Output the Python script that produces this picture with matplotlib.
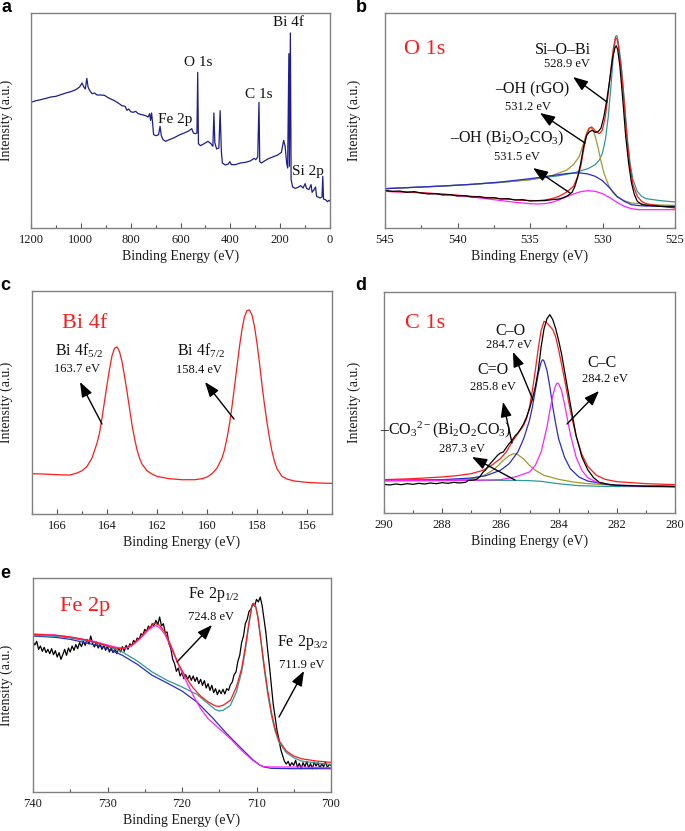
import numpy as np
import matplotlib
matplotlib.use('Agg')
import matplotlib.pyplot as plt
from matplotlib.ticker import MultipleLocator

plt.rcParams['font.family'] = ['Liberation Serif', 'DejaVu Serif']
plt.rcParams['mathtext.fontset'] = 'custom'
plt.rcParams['mathtext.rm'] = 'Liberation Serif'
plt.rcParams['mathtext.it'] = 'Liberation Serif:italic'
plt.rcParams['mathtext.bf'] = 'Liberation Serif:bold'

# ---------------- data (a) survey ----------------
survey_be = [1200,1180,1160,1140,1120,1100,1080,1060,1040,1020,1005,995,988,982,976,971,965,955,945,935,
             920,905,895,880,865,850,835,822,815,808,800,790,780,770,755,740,730,724,720,716,
             712,708,698,688,682,677,670,660,645,625,605,585,565,555,548,540,534,531,528,520,
             505,490,478,470,466,462,455,446,441,436,432,420,408,402,396,380,360,340,320,305,
             298,290,285,282,275,265,250,230,210,195,186,180,174,170,165,163,159,156,150,140,
             128,118,108,100,94,85,76,72,64,58,54,48,40,32,29,26,18,10,4,0]
survey_int = [377,382,385,389,393,395,400,405,409,415,423,435,423,417,449,423,413,403,405,399,
              399,398,393,387,382,375,367,365,353,357,349,347,350,343,340,337,333,343,323,345,
              315,280,277,280,305,277,265,260,265,271,279,285,292,298,285,283,285,467,253,247,
              253,260,253,245,345,255,237,240,352,230,195,189,192,199,190,190,195,197,201,209,
              205,213,377,199,195,200,207,213,219,227,263,245,195,180,523,185,585,145,123,119,
              122,127,120,133,119,115,130,107,115,123,95,93,90,93,155,87,85,79,83,81]

# ---------------- data (b) O 1s ----------------
o1s_raw_be = [545,544.5,544,543.5,543,542.5,542,541.5,541,540.5,540,539.5,539,538.5,538,537.5,537,536.5,536,535.5,535,
              534.5,534,533.5,533,532.7,532.4,532.1,531.9,531.7,531.5,531.3,531.1,530.9,530.7,530.5,530.3,530.1,
              529.9,529.7,529.5,529.3,529.15,529.05,528.95,528.8,528.6,528.4,528.2,528.0,527.8,527.6,527.3,527,
              526.5,526,525.5,525]
o1s_raw = [113,110,111,107,109,105,102,103,99,100,96,97,93,94,90,91,87,88,84,85,81,
           82,82,85,87,91,97,107,125,155,195,245,277,289,293,287,289,300,335,385,445,510,540,547,535,
           485,385,275,195,135,100,80,71,68,67,65,64,63]
o1s_env_be = [545,543,541,539,537,535.5,534.5,534,533.5,533,532.5,532,531.7,531.5,531.3,531.1,530.9,530.75,
              530.6,530.4,530.2,530.0,529.8,529.6,529.4,529.25,529.1,529.0,528.9,528.7,528.5,528.3,528.1,
              527.9,527.6,527.3,527,526,525]
o1s_env = [110,107,102,95,88,83,82,84,88,95,107,125,155,185,235,280,300,303,297,287,283,295,335,405,485,
           540,570,567,545,475,375,265,185,130,95,80,73,65,60]
o1s_sio_be = [545,543,541,539,537,535,533,532,531,530.5,530.2,530.0,529.8,529.6,529.4,529.25,529.1,529.0,
              528.9,528.7,528.5,528.3,528.1,527.9,527.6,527.3,527,526,525]
o1s_sio = [118,122,126,131,137,145,157,165,178,190,205,225,265,335,435,520,575,577,555,485,385,275,195,
           145,110,95,88,82,78]
o1s_rgo_be = [545,543,541,539,537,535,533.5,532.5,532,531.6,531.3,531.1,530.95,530.8,530.65,530.5,530.3,
              530.1,529.9,529.6,529.3,529,528.5,528,527,526,525]
o1s_rgo = [118,122,126,131,137,145,157,173,190,215,255,285,299,301,293,275,240,200,165,130,107,93,82,75,71,69,68]
o1s_bioc_be = [545,543,541,539,537,535,533.5,532.5,532,531.5,531,530.5,530,529.5,529,528.5,528,527.5,527,526,525]
o1s_bioc = [118,122,126,131,138,148,157,163,165,165,162,155,142,120,95,80,70,67,66,65,65]
o1s_bg_be = [545,543,541,539,537.5,536,535,534.5,534,533.5,533,532.5,532,531.5,531,530.5,530,529.5,529,
             528.5,528,527.5,527,526,525]
o1s_bg = [110,107,101,93,85,77,73,72,73,77,84,93,102,109,112,110,103,91,77,65,58,55,55,55,55]

# ---------------- data (c) Bi 4f ----------------
bi_be = [167.0,166.5,166.0,165.5,165.2,165.0,164.8,164.6,164.4,164.3,164.2,164.1,164.0,163.9,163.8,
         163.7,163.6,163.5,163.4,163.3,163.2,163.1,163.0,162.9,162.8,162.7,162.6,162.4,162.2,162.0,
         161.5,161.0,160.5,160.2,160.0,159.8,159.6,159.4,159.3,159.2,159.1,159.0,158.9,158.8,158.7,
         158.6,158.5,158.4,158.3,158.2,158.1,158.0,157.9,157.8,157.7,157.6,157.5,157.4,157.3,157.2,
         157.0,156.8,156.5,156.0,155.5,155.0]
bi_int = [121,120,118,117,123,130,143,168,213,243,288,338,388,435,475,
          498,502,488,458,415,368,318,268,228,193,168,150,130,120,113,
          106,103,103,106,111,121,138,168,193,228,271,323,383,443,503,
          555,593,611,613,598,563,513,453,388,328,275,228,188,158,136,
          113,105,99,95,93,92]

# ---------------- data (d) C 1s ----------------
c1s_raw_be = [290.0,289.8,289.6,289.4,289.2,289.0,288.8,288.6,288.4,288.2,288.0,287.8,287.6,287.4,287.2,
              287.1,286.9,286.8,286.7,286.6,286.5,286.4,286.3,286.2,286.1,286.0,285.9,285.8,285.7,285.6,
              285.5,285.4,285.3,285.2,285.1,285.0,284.9,284.8,284.7,284.6,284.5,284.4,284.3,284.2,284.1,
              284.0,283.9,283.8,283.6,283.4,283.2,283.0,282.8,282.6,282.3,282.0,281.5,281.0,280.5,280.0]
c1s_raw = [86,84,87,85,88,86,89,87,90,88,91,89,92,90,92,
           98,99,102,110,122,130,143,153,163,173,180,183,196,208,218,
           231,240,253,268,288,313,343,378,428,498,553,583,595,580,553,
           518,478,428,328,233,168,130,106,92,86,83,82,80,80,79]
c1s_env_be = [290,289,288,287.5,287,286.6,286.3,286.0,285.8,285.6,285.4,285.2,285.1,285.0,284.9,284.8,
              284.7,284.6,284.5,284.4,284.3,284.2,284.1,284.0,283.8,283.6,283.4,283.2,283.0,282.7,282.4,
              282.0,281.0,280.0]
c1s_env = [100,103,108,112,118,128,143,163,183,213,238,263,283,318,368,428,493,548,575,570,560,550,528,
           490,403,308,231,176,140,113,101,94,88,85]
c1s_co_be = [290,288,287,286.5,286.0,285.7,285.4,285.2,285.0,284.9,284.8,284.7,284.6,284.55,284.5,284.4,
             284.3,284.2,284.1,284.0,283.8,283.6,283.3,283.0,282.5,282,281,280]
c1s_co = [98,100,105,112,128,148,183,223,278,318,368,418,453,460,456,428,378,318,268,223,168,133,108,96,88,83,81,80]
c1s_cc_be = [290,287,286,285.5,285.0,284.8,284.6,284.4,284.3,284.2,284.1,284.05,284.0,283.9,283.8,283.6,
             283.4,283.2,283.0,282.7,282.3,282,281,280]
c1s_cc = [98,98,100,108,123,143,183,258,308,353,383,390,388,368,328,238,168,128,106,93,86,83,81,80]
c1s_c_o_be = [290,287.5,287.0,286.6,286.3,286.1,285.9,285.7,285.55,285.4,285.2,285.0,284.8,284.5,284.0,
              283.5,283,282,280]
c1s_c_o = [98,99,102,111,126,140,158,172,178,175,162,143,128,113,101,93,88,83,80]
c1s_co3_be = [290,287,285.5,285,284.6,284.2,283.8,283.3,282.5,281,280]
c1s_co3 = [96,98,98,97,95,90,86,82,80,79,78]

# ---------------- data (e) Fe 2p ----------------
fe_raw = [450,441,452,428,438,422,434,418,428,415,430,412,424,405,418,398,412,
          428,410,432,420,438,425,442,430,448,436,452,440,458,444,468,446,
          435,450,432,445,428,440,425,438,420,432,418,430,415,432,420,436,
          422,440,428,445,438,455,448,462,458,475,470,488,482,498,490,505,
          498,515,502,525,498,505,478,480,445,430,398,385,362,372,348,358,
          340,352,338,350,335,348,332,344,325,338,320,334,312,325,305,320,
          298,310,292,306,295,308,294,310,305,322,330,352,360,392,410,448,
          468,505,518,542,548,565,558,578,570,585,560,520,480,425,375,318,
          262,225,185,160,128,110,92,84,92,78,88,80,95,74,86,70,
          88,76,92,72,85,70,90,78,88,72,84,76,90,74,82,80]
fe_raw_be = np.linspace(740, 700, len(fe_raw))
fe_env_be = [740,737,735,733,731,729.5,728.5,727.5,726.5,725.5,724.5,723.7,723,722.3,721.5,720.5,719.5,
             718.5,717.5,716.5,715.5,715,714.5,713.5,712.7,712,711.5,711,710.6,710.4,710.1,709.8,709.4,
             709,708.5,708,707.5,707,706,705,704,702,700]
fe_env = [473,470,465,457,445,435,430,433,445,465,490,507,500,480,440,385,345,312,288,270,258,257,260,
          275,315,370,435,510,560,565,555,525,455,385,305,240,190,155,123,108,100,93,89]
fe_p32_be = [740,737,735,732,730,728,726,724,722,720,718,716.5,715.5,715,714.5,713.5,712.7,712,711.5,
             711,710.6,710.4,710.1,709.8,709.4,709,708.5,708,707.5,707,706,705,704,702,700]
fe_p32 = [470,467,462,450,437,420,393,360,335,315,293,265,247,243,245,260,300,360,425,505,560,567,557,
          520,450,375,295,230,183,150,118,103,93,87,83]
fe_bg_be = [740,737,735,732,730,728,726,724,722,720,718,716,714,712,710.5,709.5,709,708,705,700]
fe_bg = [468,464,458,443,430,410,383,350,327,303,270,225,175,130,97,80,75,71,70,70]
fe_p12_be = [740,737,735,732,730,729,728,727.3,726.5,725.5,724.5,723.6,723,722.3,721.5,720.5,719.5,
             718.5,717.5,716.5,715,713.5,712,710.5,709.5,709,708,705,700]
fe_p12 = [474,471,465,453,441,435,431,433,443,463,487,500,493,473,435,383,335,290,250,220,190,160,125,
          95,80,76,75,75,73]

# ---------------- styling ----------------
W, H = 685, 831
TEAL = '#2e9a98'
OLIVE = '#9c9c2c'
BLUE = '#2a2ad0'
MAG = '#ff22ff'
RED = '#ff1a1a'
NAVY = '#1e1e8c'
LW = 0.9

fig = plt.figure(figsize=(W / 100, H / 100), dpi=100)


def box(l, t, r, b):
    return [l / W, 1 - b / H, (r - l) / W, (b - t) / H]


def F(x, y):
    return (x / W, 1 - y / H)


def setup(ax, xlim, ylim, major, minor, ylab_px):
    ax.set_xlim(*xlim)
    ax.set_ylim(*ylim)
    ax.xaxis.set_major_locator(MultipleLocator(major))
    ax.xaxis.set_minor_locator(MultipleLocator(minor))
    ax.set_yticks([])
    ax.tick_params(axis='x', which='both', direction='in', top=False, colors='#555555',
                   labelcolor='#1a1a1a', labelsize=9, pad=4, width=0.8)
    ax.tick_params(axis='x', which='major', length=3.5)
    ax.tick_params(axis='x', which='minor', length=2)
    for s in ax.spines.values():
        s.set_color('#808080')
        s.set_linewidth(1.0)
    ax.set_xlabel('Binding Energy (eV)', fontsize=10, labelpad=3, color='#1a1a1a')
    ax.set_ylabel('Intensity (a.u.)', fontsize=10, color='#1a1a1a')
    bb = ax.get_position()
    ax.yaxis.set_label_coords((ylab_px / W - bb.x0) / bb.width, 0.5)


def txt(x, y, s, size, color='#111111'):
    fig.text(*F(x, y), s, ha='center', va='center', fontsize=size, color=color)


def arrow(tail, head):
    fig.add_artist(matplotlib.patches.FancyArrowPatch(
        F(*tail), F(*head), transform=fig.transFigure,
        arrowstyle='-|>,head_length=0.75,head_width=0.28', mutation_scale=12,
        color='black', lw=1.0, shrinkA=0, shrinkB=0))


# (a)
axa = fig.add_axes(box(31, 13, 330, 228))
axa.plot(survey_be, survey_int, color=NAVY, lw=LW)
setup(axa, (1200, 0), (0, 645), 200, 100, 13)
txt(288, 22, 'Bi 4f', 11)
txt(198, 62, 'O 1s', 11)
txt(259, 94, 'C 1s', 11)
txt(175, 119, 'Fe 2p', 11)
txt(308, 172, 'Si 2p', 11)

# (b)
axb = fig.add_axes(box(385, 13, 675, 228))
axb.plot(o1s_sio_be, o1s_sio, color=TEAL, lw=LW)
axb.plot(o1s_rgo_be, o1s_rgo, color=OLIVE, lw=LW)
axb.plot(o1s_bioc_be, o1s_bioc, color=BLUE, lw=LW)
axb.plot(o1s_bg_be, o1s_bg, color=MAG, lw=LW)
axb.plot(o1s_env_be, o1s_env, color=RED, lw=LW)
axb.plot(o1s_raw_be, o1s_raw, color='black', lw=LW)
setup(axb, (545, 525), (0, 645), 5, 2.5, 361)
txt(425, 49, 'O 1s', 16, RED)
txt(563, 50, 'Si–O–Bi', 11.5)
txt(567, 64, '528.9 eV', 9)
arrow((607, 102), (573, 77))
txt(532, 89, '–OH (rGO)', 11.5)
txt(528, 107, '531.2 eV', 9)
arrow((585, 143), (540, 113))
txt(507, 138, r'–OH (Bi$_2$O$_2$CO$_3$)', 11.5)
txt(517, 157, '531.5 eV', 9)
arrow((570, 193), (533, 168))

# (c)
axc = fig.add_axes(box(32, 291, 332, 514))
axc.plot(bi_be, bi_int, color=RED, lw=LW)
setup(axc, (167, 155), (0, 670), 2, 1, 13)
txt(85, 323, 'Bi 4f', 16, RED)
txt(79, 351, r'Bi 4f$_{5/2}$', 11.5)
txt(77, 369, '163.7 eV', 9)
arrow((102, 424), (80, 382))
txt(201, 351, r'Bi 4f$_{7/2}$', 11.5)
txt(199, 370, '158.4 eV', 9)
arrow((234, 419), (205, 382))

# (d)
axd = fig.add_axes(box(384, 292, 675, 513))
axd.plot(c1s_co3_be, c1s_co3, color=TEAL, lw=LW)
axd.plot(c1s_c_o_be, c1s_c_o, color=OLIVE, lw=LW)
axd.plot(c1s_co_be, c1s_co, color=BLUE, lw=LW)
axd.plot(c1s_cc_be, c1s_cc, color=MAG, lw=LW)
axd.plot(c1s_env_be, c1s_env, color=RED, lw=LW)
axd.plot(c1s_raw_be, c1s_raw, color='black', lw=LW)
setup(axd, (290, 280), (0, 663), 2, 1, 361)
txt(425, 323, 'C 1s', 16, RED)
txt(510, 331, 'C–O', 11.5)
txt(509, 345, '284.7 eV', 9)
arrow((533, 400), (513, 352))
txt(493, 370, 'C=O', 11.5)
txt(493, 387, '285.8 eV', 9)
arrow((512, 443), (503, 402))
txt(602, 363, 'C–C', 11.5)
txt(605, 379, '284.2 eV', 9)
arrow((567, 424), (599, 391))
txt(446, 430, r'–CO$_3{}^{2-}$(Bi$_2$O$_2$CO$_3$)', 11.5)
txt(462, 449, '287.3 eV', 9)
arrow((515, 480), (472, 457))

# (e)
axe = fig.add_axes(box(33, 578, 331, 792))
axe.plot(fe_raw_be, fe_raw, color='black', lw=LW)
axe.plot(fe_bg_be, fe_bg, color=BLUE, lw=LW)
axe.plot(fe_p32_be, fe_p32, color=TEAL, lw=LW)
axe.plot(fe_p12_be, fe_p12, color=MAG, lw=LW)
axe.plot(fe_env_be, fe_env, color=RED, lw=LW)
setup(axe, (740, 700), (0, 642), 10, 5, 13)
txt(85, 607, 'Fe 2p', 16, RED)
txt(214, 595, r'Fe 2p$_{1/2}$', 11.5)
txt(211, 617, '724.8 eV', 9)
arrow((177, 662), (212, 625))
txt(303, 642, r'Fe 2p$_{3/2}$', 11.5)
txt(302, 665, '711.9 eV', 9)
arrow((279, 717), (304, 671))

# panel letters
for lab, (x, y) in zip('abcde', [(7, 8), (361, 8), (5, 285), (361, 285), (5, 573)]):
    fig.text(*F(x, y), lab, ha='center', va='center', fontsize=13, fontweight='bold',
             family='Liberation Sans')

fig.savefig('out.png', dpi=100)
